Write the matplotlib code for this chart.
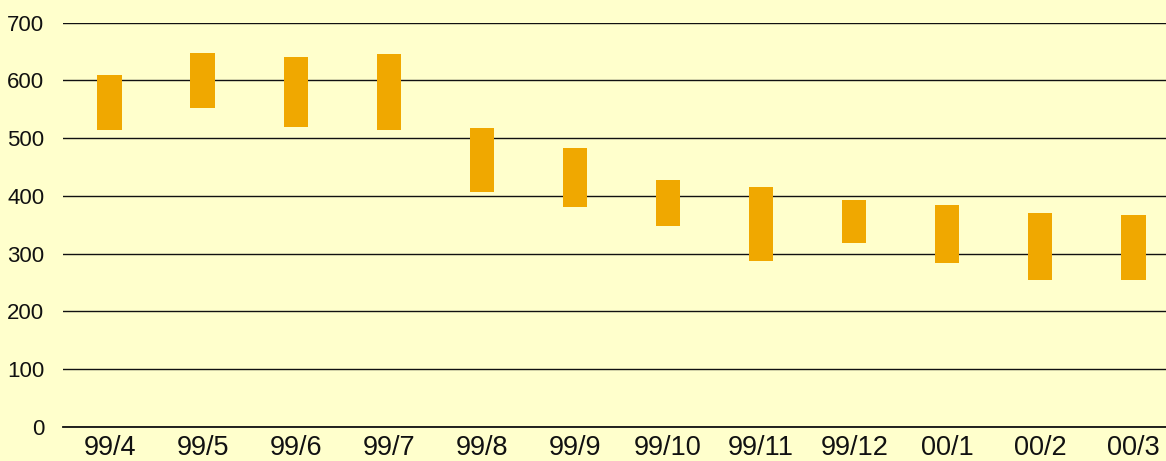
import matplotlib.pyplot as plt
import numpy as np

plt.rcParams['font.family'] = ['Liberation Sans', 'DejaVu Sans']

months = ['99/4', '99/5', '99/6', '99/7', '99/8', '99/9', '99/10', '99/11', '99/12', '00/1', '00/2', '00/3']
high = [609, 648, 640, 645, 517, 483, 428, 416, 393, 384, 371, 367]
low = [514, 553, 519, 514, 407, 381, 348, 288, 319, 284, 255, 255]

bg = '#FFFFCC'
fig = plt.figure(figsize=(11.66, 4.61), dpi=100)
fig.patch.set_facecolor(bg)
ax = fig.add_axes([0.054, 0.0738, 0.958, 0.877])
ax.set_facecolor(bg)

x = np.arange(len(months))
h = np.array(high) - np.array(low)
ax.bar(x, h, bottom=low, width=0.26, color='#F0A800', zorder=3)

ax.set_xlim(-0.5, 11.5)
ax.set_ylim(0, 700)
ax.set_yticks(range(0, 701, 100))
ax.set_xticks(x)
ax.set_xticklabels(months)
ax.yaxis.grid(True, color='#111111', linewidth=1)
ax.set_axisbelow(True)
for s in ax.spines.values():
    s.set_visible(False)
ax.spines['bottom'].set_visible(True)
ax.spines['bottom'].set_color('#111111')
ax.spines['bottom'].set_linewidth(1.3)
ax.tick_params(axis='both', length=0, colors='#111111')
ax.tick_params(axis='y', pad=13.5, labelsize=16)
ax.tick_params(axis='x', pad=5.5, labelsize=19.5)

fig.savefig('out.png', dpi=100, facecolor=bg)
